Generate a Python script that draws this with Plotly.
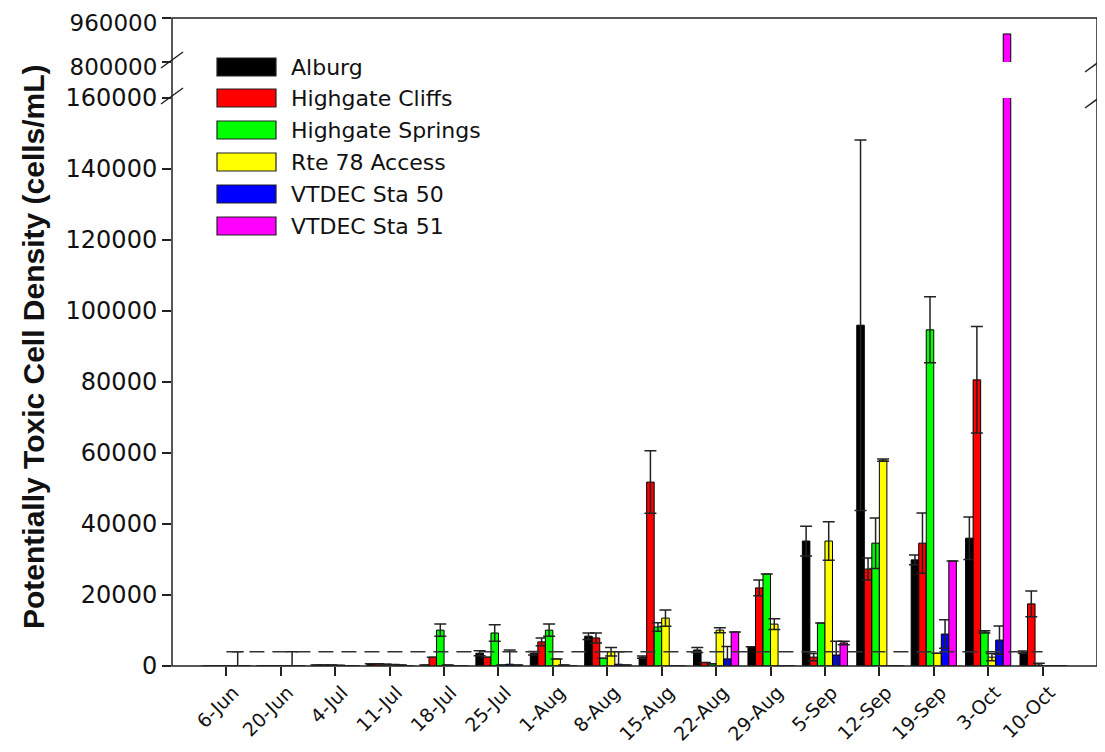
import plotly.graph_objects as go

dates = ['6-Jun', '20-Jun', '4-Jul', '11-Jul', '18-Jul', '25-Jul', '1-Aug', '8-Aug',
         '15-Aug', '22-Aug', '29-Aug', '5-Sep', '12-Sep', '19-Sep', '3-Oct', '10-Oct']

series_names = ['Alburg', 'Highgate Cliffs', 'Highgate Springs', 'Rte 78 Access',
                'VTDEC Sta 50', 'VTDEC Sta 51']
series_colors = ['#000000', '#FF0000', '#00FF00', '#FFFF00', '#0000FF', '#FF00FF']

alburg = [0, 0, 300, 600, 300, 3600, 3600, 8400, 2500, 4500, 5400, 35200, 96000, 29900, 36000, 3900]
alburg_err = [0, 0, 0, 0, 0, 700, 500, 900, 300, 700, 0, 4200, 52200, 1400, 6000, 300]

cliffs = [0, 0, 300, 600, 2500, 2500, 6800, 7900, 51800, 1000, 22000, 2500, 27300, 34600, 80600, 17500]
cliffs_err = [0, 0, 0, 0, 0, 0, 1100, 1400, 8800, 0, 2200, 1000, 3100, 8500, 15000, 3600]

springs = [0, 0, 300, 500, 10100, 9300, 10100, 2200, 11000, 600, 25900, 12100, 34600, 94700, 9600, 300]
springs_err = [0, 0, 0, 0, 1700, 2300, 1700, 0, 1200, 0, 0, 0, 7100, 9300, 300, 500]

rte78 = [0, 0, 200, 400, 300, 300, 2000, 4000, 13500, 10100, 11800, 35200, 58000, 3600, 2500, 0]
rte78_err = [0, 0, 0, 0, 0, 0, 0, 1200, 2300, 700, 1500, 5400, 300, 0, 1000, 0]

sta50 = [0, 0, 100, 300, 0, 500, 300, 500, 0, 2000, 0, 3100, 0, 9000, 7300, 0]
sta50_err = [4000, 4000, 0, 0, 0, 4000, 0, 3500, 0, 3500, 0, 3900, 0, 4000, 4000, 0]

sta51 = [0, 0, 0, 0, 0, 300, 0, 300, 0, 9600, 0, 6500, 0, 29600, 902000, 0]
sta51_err = [0, 0, 0, 0, 0, 0, 0, 0, 0, 0, 0, 500, 0, 0, 0, 0]

threshold = 4000

lower_ticks = [0, 20000, 40000, 60000, 80000, 100000, 120000, 140000, 160000]
upper_ticks = [800000, 960000]

values = [alburg, cliffs, springs, rte78, sta50, sta51]
errors = [alburg_err, cliffs_err, springs_err, rte78_err, sta50_err, sta51_err]

FONT = 'DejaVu Sans, Arial, sans-serif'
TFONT = 'Arial, Liberation Sans, sans-serif'
OFF = 8  # page body margin
W, H = 1105 - OFF, 752 - OFF
L, T = 172 - OFF, 18 - OFF
R = W - (1097 - OFF)
B = H - (666 - OFF)
PW, PH = W - L - R, H - T - B


def px(x):
    # reference page x -> paper
    return (x - OFF - L) / PW


def py(y):
    # reference page y -> paper
    return (H - B - (y - OFF)) / PH


fig = go.Figure()

for name, col, v, e in zip(series_names, series_colors, values, errors):
    fig.add_trace(go.Bar(
        x=dates, y=v, name=name, marker=dict(color=col, line=dict(color='#000', width=1)),
        error_y=dict(type='data', array=e, symmetric=True, color='#222', thickness=1.5, width=6),
        xaxis='x', yaxis='y', showlegend=False))
for name, col, v in zip(series_names, series_colors, values):
    fig.add_trace(go.Bar(
        x=dates, y=v, name=name, marker=dict(color=col, line=dict(color='#000', width=1)),
        xaxis='x', yaxis='y2', showlegend=False, hoverinfo='skip'))

shapes = []
# dashed threshold line
shapes.append(dict(type='line', xref='x', yref='y', x0=0, x1=len(dates) - 1,
                   y0=threshold, y1=threshold, layer='above',
                   line=dict(color='#333', width=1.5, dash='15px,8px')))
# frame
shapes.append(dict(type='rect', xref='paper', yref='paper', x0=0, x1=1, y0=0, y1=1,
                   layer='above', fillcolor='rgba(0,0,0,0)',
                   line=dict(color='#222', width=1.5)))
# break marks
for cx, cy in [(172, 60), (172, 96), (1096, 64), (1096, 100)]:
    shapes.append(dict(type='line', xref='paper', yref='paper',
                       x0=px(cx - 11), x1=px(cx + 11), y0=py(cy + 8), y1=py(cy - 8),
                       line=dict(color='#222', width=1.5)))

annotations = []
# custom legend
row_y = [67, 98, 130, 162, 194, 226]
for name, col, ry in zip(series_names, series_colors, row_y):
    shapes.append(dict(type='rect', xref='paper', yref='paper',
                       x0=px(217), x1=px(276), y0=py(ry + 9), y1=py(ry - 9),
                       fillcolor=col, line=dict(color='#222', width=1.2)))
    annotations.append(dict(xref='paper', yref='paper', x=px(289), y=py(ry),
                            xanchor='left', yanchor='middle', text=name, showarrow=False,
                            font=dict(family=FONT, size=22, color='#111')))

annotations.append(dict(xref='paper', yref='paper', x=px(34), y=py(347),
                        xanchor='center', yanchor='middle', textangle=-90,
                        text='<b>Potentially Toxic Cell Density (cells/mL)</b>', showarrow=False,
                        font=dict(family=TFONT, size=30, color='#111')))

fig.update_layout(
    width=W, height=H, margin=dict(l=L, r=R, t=T, b=B, autoexpand=False),
    plot_bgcolor='white', paper_bgcolor='white',
    barmode='group', bargap=0.17, bargroupgap=0,
    showlegend=False,
    xaxis=dict(type='category', range=[-1, len(dates)], anchor='y', automargin=False,
               showgrid=False, zeroline=False, showline=False,
               ticks='outside', ticklen=9, tickwidth=1.5, tickcolor='#222',
               ticklabelshift=7, ticklabelstandoff=-2, ticklabeloverflow='allow',
               tickangle=-45, tickfont=dict(family=FONT, size=19, color='#111')),
    yaxis=dict(domain=[0, py(98)], range=[0, 160000], tickvals=lower_ticks,
               ticktext=[str(t) for t in lower_ticks], automargin=False,
               ticklabeloverflow='allow',
               showgrid=False, zeroline=False, showline=False,
               ticks='outside', ticklen=9, tickwidth=1.5, tickcolor='#222',
               tickfont=dict(family=FONT, size=24, color='#111')),
    yaxis2=dict(domain=[py(62), 1], range=[800000, 960000], tickvals=upper_ticks,
                ticktext=[str(t) for t in upper_ticks], anchor='x', automargin=False,
                ticklabeloverflow='allow', ticklabelshift=5,
                showgrid=False, zeroline=False, showline=False,
                ticks='outside', ticklen=9, tickwidth=1.5, tickcolor='#222',
                tickfont=dict(family=FONT, size=23, color='#111')),
    shapes=shapes, annotations=annotations,
)

fig.write_html('out.html')
